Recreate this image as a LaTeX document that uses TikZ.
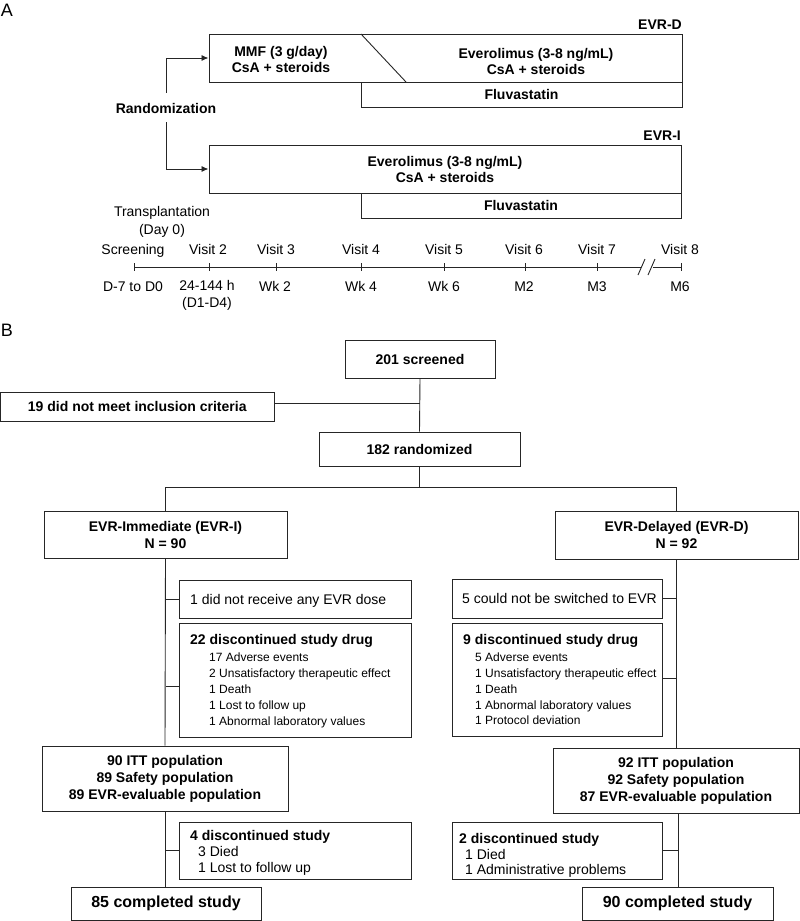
\documentclass[tikz,border=0pt]{standalone}
\usepackage{fontspec}
\setmainfont{Liberation Sans}
\usetikzlibrary{arrows.meta}
\newcommand\mybox[6][]{\node[box,#1,minimum width={(#5-#3)*1pt},minimum height={(#6-#4)*1pt}] (#2) at ({(#3+#5)/2},{(#4+#6)/2})}
\begin{document}
\begin{tikzpicture}[x=1pt,y=-1pt,
 every node/.style={inner sep=0pt},
 box/.style={draw=black!85, line width=1pt, align=center, font=\fontsize{14}{17}\selectfont\bfseries},
 conn/.style={draw=black!85, line width=0.9pt},
 arr/.style={conn, -{Latex[length=7pt,width=6pt]}},
 tb/.style={font=\fontsize{14}{17}\selectfont\bfseries, text height=10pt, text depth=0pt},
 tr/.style={font=\fontsize{14}{17}\selectfont, text height=10pt, text depth=0pt},
 ts/.style={font=\fontsize{12}{15}\selectfont, text height=8.6pt, text depth=0pt},
 tm/.style={font=\fontsize{14}{17}\selectfont, text height=10pt, text depth=0pt},
 big/.style={font=\fontsize{16}{19}\selectfont\bfseries},
 panel/.style={font=\fontsize{18}{20}\selectfont},
]
\useasboundingbox (0,0) rectangle (800,921);

% ---------------- Panel A ----------------
\node[panel] (lA) at (7,10) {A};
\node[tb, anchor=east] (lblD) at (682,24) {EVR-D};
\mybox{boxD}{209}{34}{682}{82}{};
\draw[conn] (361,34) -- (406,82);
\node[align=center, font=\fontsize{14}{16}\selectfont\bfseries] (mmf) at (281,59) {MMF (3 g/day)\\CsA + steroids};
\node[align=center, font=\fontsize{14}{16}\selectfont\bfseries] (evrD) at (536,61) {Everolimus (3-8 ng/mL)\\CsA + steroids};
\mybox{fluD}{361}{82}{682}{107}{Fluvastatin};

\node[tb] (rand) at (166,108) {Randomization};

\node[tb, anchor=east] (lblI) at (681,135) {EVR-I};
\mybox[font=\fontsize{14}{16}\selectfont\bfseries]{boxI}{209}{145}{681}{193}{Everolimus (3-8 ng/mL)\\CsA + steroids};
\mybox{fluI}{361}{193}{681}{218}{Fluvastatin};

\draw[arr] ([yshift=10pt]rand.north) |- (boxD.west);
\draw[arr] ([yshift=-9pt]rand.south) |- (boxI.west);

\node[align=center, font=\fontsize{14}{18}\selectfont] (tx) at (162,222) {Transplantation\\(Day 0)};

% timeline
\coordinate (tlS) at (134,267);
\coordinate (tlB1) at (641,267);
\coordinate (tlB2) at (653,267);
\coordinate (tlE) at (681,267);
\draw[conn] (tlS) -- (tlB1);
\draw[conn] (tlB2) -- (tlE);
\draw[conn] (638,275) -- (645,259);
\draw[conn] (648,275) -- (655,259);
\foreach \x in {134,209,276,361,444,525,597,681}
  \draw[conn] (\x,263) -- (\x,271);

\foreach \x/\t [count=\i] in {133/Screening,208/Visit 2,276/Visit 3,361/Visit 4,444/Visit 5,524/Visit 6,597/Visit 7,680/Visit 8}
  \node[tm] (vis\i) at (\x,249) {\t};
\foreach \x/\t [count=\i] in {133/D-7 to D0,275/Wk 2,361/Wk 4,444/Wk 6,524/M2,597/M3,680/M6}
  \node[tm] (day\i) at (\x,286) {\t};
\node[align=center, anchor=north, font=\fontsize{14}{17}\selectfont] (d2) at (207,280.5) {24-144 h\\(D1-D4)};

% ---------------- Panel B ----------------
\node[panel] (lB) at (7,330) {B};
\mybox{scr}{345}{340}{495}{378}{201 screened};
\mybox{excl}{0.5}{392}{274}{421}{19 did not meet inclusion criteria};
\mybox{rnd}{319}{432}{520}{466}{182 randomized};
\draw[conn] (scr.south) -- (rnd.north);
\draw[conn] ([yshift=3pt]excl.east) -- ([yshift=3pt]excl.east -| scr.south);

\mybox{armI}{44}{511}{287}{558}{EVR-Immediate (EVR-I)\\N = 90};
\mybox{armD}{555}{511}{798}{559}{EVR-Delayed (EVR-D)\\N = 92};
\draw[conn] (rnd.south) -- (rnd.south |- 0,487);
\draw[conn] (armI.north) -- (armI.north |- 0,487) -| (armD.north);

\mybox{ittI}{42}{746}{288}{811}{90 ITT population\\89 Safety population\\89 EVR-evaluable population};
\mybox{ittD}{553}{748}{799}{813}{92 ITT population\\92 Safety population\\87 EVR-evaluable population};
\draw[conn] (armI.south) -- (ittI.north);
\draw[conn] (armD.south) -- (armD.south |- ittD.north);

% left exclusions
\mybox{noEVR}{179}{580}{411}{618}{};
\node[tm, anchor=west] (noEVRt) at (190,599) {1 did not receive any EVR dose};
\draw[conn] (noEVR.west) -- (noEVR.west -| armI.south);

\mybox{dA}{179}{623}{411}{737}{};
\node[tb, anchor=west] (dAh) at (190,639) {22 discontinued study drug};
\node[ts, anchor=west] (dA1) at (209,657) {17 Adverse events};
\node[ts, anchor=west] (dA2) at (209,673) {2 Unsatisfactory therapeutic effect};
\node[ts, anchor=west] (dA3) at (209,689) {1 Death};
\node[ts, anchor=west] (dA4) at (209,705) {1 Lost to follow up};
\node[ts, anchor=west] (dA5) at (209,721) {1 Abnormal laboratory values};
\draw[conn] ([yshift=-6pt]dA.west) -- ([yshift=-6pt]dA.west -| armI.south);

% right exclusions
\mybox{swEVR}{452}{579}{662}{618}{};
\node[tm, anchor=west] (swEVRt) at (462,598) {5 could not be switched to EVR};
\draw[conn] (swEVR.east) -- (swEVR.east -| armD.south);

\mybox{dB}{452}{623}{662}{736}{};
\node[tb, anchor=west] (dBh) at (463,639) {9 discontinued study drug};
\node[ts, anchor=west] (dB1) at (475,657) {5 Adverse events};
\node[ts, anchor=west] (dB2) at (475,673) {1 Unsatisfactory therapeutic effect};
\node[ts, anchor=west] (dB3) at (475,689) {1 Death};
\node[ts, anchor=west] (dB4) at (475,705) {1 Abnormal laboratory values};
\node[ts, anchor=west] (dB5) at (475,720) {1 Protocol deviation};
\draw[conn] ([yshift=1.5pt]dB.east) -- ([yshift=1.5pt]dB.east -| armD.south);

% study discontinuation
\mybox{dC}{179}{822}{411}{879}{};
\node[tb, anchor=west] (dCh) at (190,835) {4 discontinued study};
\node[tm, anchor=west] (dC1) at (198,851) {3 Died};
\node[tm, anchor=west] (dC2) at (198,867) {1 Lost to follow up};
\draw[conn] (dC.west) -- (dC.west -| ittI.south);

\mybox{dD}{452}{822}{662}{879}{};
\node[tb, anchor=west] (dDh) at (459,838) {2 discontinued study};
\node[tm, anchor=west] (dD1) at (465,854) {1 Died};
\node[tm, anchor=west] (dD2) at (465,869) {1 Administrative problems};

\mybox[big]{cI}{71}{887}{261}{920}{85 completed study};
\mybox[big]{cD}{582}{887}{773}{920}{90 completed study};
\draw[conn] (ittI.south) -- (ittI.south |- cI.north);
\draw[conn] (ittD.south |- ittD.south) ++(2pt,0) -- ([xshift=2pt]ittD.south |- cD.north);
\draw[conn] (dD.east) -- ([xshift=2pt]dD.east -| ittD.south);
\end{tikzpicture}
\end{document}
